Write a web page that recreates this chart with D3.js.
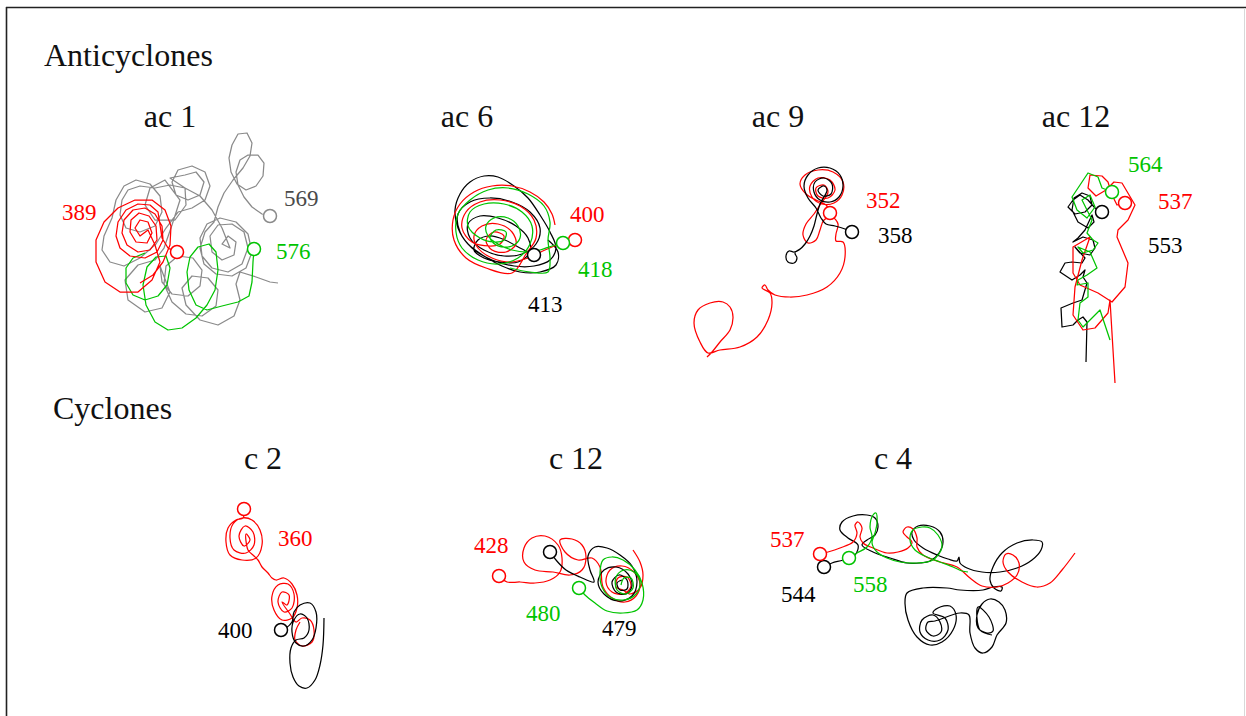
<!DOCTYPE html>
<html>
<head>
<meta charset="utf-8">
<script src="https://cdn.jsdelivr.net/npm/d3@7"></script>
<style>
  html, body { margin: 0; padding: 0; background: #fff; }
  svg { display: block; }
</style>
</head>
<body>
<svg id="chart" width="1246" height="716"></svg>
<script>
// Eddy trajectories. Each point is [km east, km north] of the eddy's reference
// position; the first point of every track is where the eddy was first detected.

const groupTitles = ["Anticyclones", "Cyclones"];
const panelTitles = ["ac 1", "ac 6", "ac 9", "ac 12", "c 2", "c 12", "c 4"];

// ---- ac 1 ----
const ac1_569 = [[70,34],[62,36],[52,43],[44,53],[38,65],[36,78],[40,90],[48,95],[58,95],[64,87],[63,74],[56,64],[46,60],[37,66],[31,78],[29,92],[32,105],[38,116],[47,117],[52,107],[50,94],[43,82],[33,70],[24,57],[18,43],[14,28],
  [5,18],[0,2],[4,-14],[16,-24],[32,-26],[46,-18],[52,-2],[48,16],[36,28],[20,32],[7,26],[0,12],[2,-6],[12,-18],[28,-22],[42,-14],[48,2],[44,18],[32,26],[18,25],[10,14],[12,-2],[22,-10],[34,-5],[36,8],[28,14],[22,6],[30,2],
  [22,22],[12,40],[0,54],[-15,62],[-30,65],[-45,62],[-60,64],[-72,60],[-78,50],[-80,35],[-74,22],[-60,18],[-45,24],[-38,38],[-40,54],[-50,66],[-64,70],[-76,64],[-84,50],[-88,32],[-96,14],[-98,0],[-90,-12],[-76,-16],[-60,-8],[-44,6],[-34,22],[-22,38],[-8,42],[5,50],[10,64],[5,78],[-8,84],[-22,80],[-28,68],[-24,55],[-12,50],[0,55],[4,68],[-4,78],[-15,75],
  [-30,72],[-15,62],[-14,45],[-25,30],[-45,30],[-55,45],[-50,62],[-35,70],
  [-20,50],[-28,25],[-36,2],[-45,-10],[-62,-15],[-75,-30],[-72,-50],[-55,-62],[-38,-58],[-30,-42],[-40,-16],[-38,-32],[-28,-44],[-12,-46],[0,-36],[2,-20],[-7,-8],[-22,-6],[-34,-16],[-36,-34],[-28,-52],[-14,-64],[2,-66],[16,-56],[18,-40],[8,-28],[-8,-26],[-18,-38],[-14,-55],[0,-70],[18,-75],[34,-66],[40,-50],[36,-34],[40,-22],[56,-27],[70,-32],[78,-33]];
const ac1_389 = [[-23,-2],[-32,2],[-38,12],[-40,25],[-42,38],[-50,45],[-62,46],[-74,40],[-82,28],[-84,14],[-80,2],[-70,-6],[-55,-8],[-43,-2],[-37,10],[-38,24],[-45,36],[-55,42],[-67,40],[-76,30],[-78,17],[-73,5],[-62,-2],[-50,0],[-43,10],[-44,24],[-51,34],[-61,37],[-69,30],[-70,18],[-64,8],[-53,7],[-48,17],[-52,28],[-60,30],[-65,22],[-60,14],[-52,20],
  [-45,5],[-40,-12],[-48,-30],[-62,-42],[-80,-42],[-95,-32],[-104,-12],[-104,10],[-96,28],[-82,42],[-65,50],[-48,50],[-35,40],[-29,24],[-30,5],[-37,-12],[-47,-25],[-60,-33]];
const ac1_576 = [[54,1],[53,-12],[52,-32],[49,-46],[38,-52],[22,-56],[7,-60],[-4,-55],[-11,-40],[-13,-22],[-10,-7],[-2,3],[9,6],[16,-2],[18,-20],[15,-40],[7,-55],[-4,-68],[-18,-78],[-32,-80],[-45,-72],[-54,-55],[-57,-35],[-53,-17],[-44,-7],[-34,-6],[-30,-18],[-33,-35],[-42,-46],[-55,-50],[-67,-45],[-74,-33],[-74,-18],[-67,-8],[-55,-3]];

// ---- ac 6 ----
const ac6_413 = [[34,-5],[20,2],[5,10],[-10,14],[-22,10],[-26,0],[-16,-8],[0,-12],[18,-12],[30,-2],[28,12],[16,24],[-2,32],[-20,34],[-32,26],[-30,12],[-16,0],[4,-6],[22,-4],[36,6],[40,22],[30,38],[12,48],[-10,52],[-30,48],[-42,36],[-40,18],[-28,2],[-8,-10],[14,-16],[34,-16],[50,-10],[56,2],[50,18],[40,35],[28,52],[14,64],[-2,73],[-16,74],[-30,68],[-40,56],[-45,40],[-42,22],[-32,6],[-16,-6],[2,-16],[20,-22],[40,-22],[56,-15],[58,-2],[48,10]];
const ac6_400 = [[75,10],[60,6],[45,0],[28,-8],[10,-12],[-8,-8],[-22,2],[-26,14],[-18,24],[-2,26],[12,18],[16,6],[6,-2],[-8,0],[-14,10],[-6,18],[4,14],[0,6],[-10,4],[-28,8],[-38,22],[-34,38],[-20,48],[0,50],[20,44],[34,30],[36,12],[26,-4],[12,-23],[-14,-18],[-34,-8],[-46,10],[-47,30],[-40,46],[-26,58],[-8,64],[12,64],[30,58],[44,48],[52,36],[55,25]];
const ac6_418 = [[63,7],[52,4],[40,0],[28,-2],[12,0],[-2,6],[-12,14],[-14,24],[-6,32],[8,32],[18,24],[20,12],[12,4],[-2,4],[-10,12],[-4,20],[6,18],[4,10],[-6,8],[-20,12],[-32,24],[-30,38],[-16,46],[4,46],[22,38],[32,24],[30,6],[18,-8],[-2,-14],[-22,-10],[-38,2],[-44,18],[-42,36],[-30,50],[-12,60],[8,62],[28,56],[44,44],[50,28],[48,10],[50,-8],[48,-22],[30,-22],[10,-18]];

// ---- ac 9 ----
const ac9_352 = [[30,37],[26,45],[16,50],[6,56],[0,66],[5,75],[18,80],[33,78],[43,68],[42,55],[34,47],[22,46],[12,53],[10,64],[18,72],[30,70],[35,60],[28,52],[18,54],[16,62],[24,65],[28,58],[20,45],[14,36],[6,26],[3,15],[8,7],[16,10],[20,20],[24,30],[32,33],[38,26],[36,16],[36,9],[43,8],[45,-7],[40,-23],[27,-37],[7,-45],[-10,-47],[-25,-45],[-32,-40],[-35,-35],[-38,-38],[-30,-43],[-28,-53],[-32,-70],[-43,-87],[-60,-97],[-80,-100],[-92,-103],[-100,-92],[-106,-73],[-102,-60],[-90,-53],[-77,-52],[-70,-57],[-67,-67],[-70,-80],[-80,-92],[-88,-102],[-93,-107]];
const ac9_358 = [[52,18],[45,21],[35,24],[26,26],[21,32],[16,42],[8,52],[4,64],[8,75],[18,82],[30,82],[40,75],[43,64],[39,53],[30,48],[20,50],[14,58],[15,68],[24,72],[32,66],[31,56],[23,54],[18,60],[24,64],[27,60],[20,46],[17,36],[14,24],[10,14],[5,6],[-1,0],[-6,-2],[-11,-1],[-14,-6],[-12,-12],[-6,-13],[-3,-8],[-5,-3],[0,1]];

// ---- ac 12 ----
const ac12_553 = [[2,38],[-5,42],[-12,50],[-20,55],[-27,50],[-32,43],[-25,36],[-15,38],[-8,45],[-10,54],[-18,57],[-26,52],[-28,40],[-22,28],[-12,22],[-6,28],[-8,35],[-15,20],[-22,12],[-27,8],[-17,13],[-7,10],[-5,2],[-10,-5],[-20,-3],[-25,3],[-15,-8],[-18,-13],[-28,-12],[-35,-13],[-40,-22],[-28,-30],[-20,-25],[-15,-20],[-17,-27],[-13,-33],[-18,-50],[-27,-53],[-39,-58],[-38,-77],[-27,-75],[-22,-70],[-17,-67],[-13,-72],[-14,-112]];
const ac12_537 = [[25,47],[17,45],[12,55],[8,68],[2,74],[-10,75],[-12,62],[-4,54],[6,60],[14,68],[22,67],[35,45],[28,30],[18,20],[17,13],[28,-13],[25,-37],[12,-52],[-2,-43],[-20,-35],[-27,-23],[-27,3],[-10,13],[-18,-10],[-25,-37],[-27,-65],[-17,-80],[-5,-78],[8,-63],[10,-50],[15,-133]];
const ac12_564 = [[12,58],[2,62],[-2,73],[-12,77],[-20,65],[-28,53],[-23,40],[-13,32],[-5,43],[-10,55],[-18,50],[-8,30],[-13,17],[-7,10],[-2,7],[-7,0],[-17,-3],[-22,3],[-10,-2],[-3,-18],[-13,-25],[-22,-30],[-23,-35],[-12,-33],[-12,-47],[-20,-53],[-22,-70],[-17,-77],[-10,-70],[0,-60],[10,-90]];

// ---- c 2 ----
const c2_360 = [[-26,91],[-27,82],[-34,80],[-42,72],[-44,58],[-40,45],[-28,40],[-14,42],[-8,55],[-10,70],[-18,80],[-28,82],[-37,76],[-40,62],[-36,50],[-24,47],[-16,55],[-17,68],[-25,74],[-31,64],[-26,54],[-20,60],[-24,66],
  [-22,50],[-16,44],[-12,40],[-8,33],[-2,27],[2,22],[6,20],[14,22],[22,16],[27,5],[27,-8],[22,-18],[12,-20],[4,-10],[2,4],[8,15],[18,16],[24,6],[22,-8],[14,-12],[8,-2],[12,8],[19,5],[17,-5],[12,-2],
  [20,-14],[26,-22],[32,-18],[40,-20],[44,-30],[42,-42],[32,-46],[25,-40],[26,-30],[30,-22]];
const c2_400 = [[11,-30],[16,-28],[22,-22],[24,-12],[30,-5],[40,-3],[46,-12],[46,-28],[42,-40],[34,-46],[26,-43],[22,-32],[24,-20],[30,-14],[37,-18],[39,-30],[34,-38],[26,-40],[21,-48],[20,-63],[23,-77],[29,-86],[37,-88],[45,-80],[50,-65],[53,-45],[54,-18]];

// ---- c 12 ----
const c12_428 = [[-101,24],[-93,18],[-80,18],[-65,17],[-50,20],[-40,28],[-38,42],[-42,55],[-55,64],[-68,62],[-76,52],[-76,38],[-65,30],[-47,28],[-30,25],[-18,30],[-14,43],[-18,55],[-28,61],[-40,60],[-35,48],[-22,40],[-8,42],[0,33],[3,13],[12,2],[25,-2],[36,4],[40,16],[34,28],[22,34],[10,30],[6,18],[12,8],[24,6],[31,14],[27,23],[18,22],[16,13],[23,10],[30,6],[40,12],[43,25],[40,38],[33,50]];
const c12_479 = [[-50,48],[-44,40],[-34,30],[-20,23],[-6,18],[-10,30],[-12,44],[-5,53],[7,52],[20,45],[32,34],[37,18],[32,4],[18,-1],[4,6],[-2,18],[4,30],[16,33],[28,26],[32,14],[26,6],[16,8],[12,18],[19,25],[27,20],[27,11],[20,10],[17,17],[22,20]];
const c12_480 = [[-21,12],[-15,5],[-5,-3],[7,-11],[23,-13],[37,-10],[43,0],[42,17],[35,30],[23,40],[12,43],[3,40],[0,27],[2,13],[10,3],[24,0],[36,6],[40,18],[34,28],[24,30],[16,23],[17,10],[26,6],[33,12],[31,22],[24,22],[21,15]];

// ---- c 4 ----
const c4_537 = [[-80,46],[-72,48],[-60,52],[-47,58],[-43,67],[-45,75],[-42,78],[-38,72],[-40,63],[-37,57],[-27,52],[-13,47],[-2,48],[8,52],[12,58],[7,63],[3,68],[7,73],[13,71],[17,62],[17,53],[23,45],[40,38],[57,33],[70,22],[82,14],[97,13],[108,17],[117,25],[119,37],[113,45],[106,46],[103,38],[108,28],[122,18],[137,13],[150,17],[162,30],[175,47]];
const c4_544 = [[-76,33],[-68,37],[-57,40],[-45,45],[-42,55],[-52,62],[-60,70],[-58,78],[-47,84],[-33,85],[-25,82],[-22,73],[-25,65],[-33,60],[-38,55],[-27,48],[-10,42],[7,37],[20,37],[30,39],[39,47],[43,58],[40,68],[30,74],[18,74],[12,68],[14,60],[23,52],[37,45],[48,41],[57,39],[59,43],[60,37],[67,32],[82,28],[100,28],[117,32],[132,40],[141,50],[142,58],[133,60],[117,57],[102,47],[93,33],[90,20],[94,12],[101,9],[102,13],[93,13],[83,10],[60,10],[47,12],[23,12],[7,7],[5,-3],[8,-20],[17,-37],[30,-45],[42,-42],[53,-30],[56,-15],[50,-6],[38,-8],
  [33,-13],[45,-18],[48,-30],[40,-40],[28,-40],[20,-32],[22,-20],[33,-15],[40,-22],[41,-32],[33,-36],[26,-30],[28,-22],[35,-21],[60,-13],
  [69,-15],[70,-33],[75,-48],[83,-53],[92,-47],[97,-35],[106,-23],[105,-10],[99,-2],[90,1],[82,-4],[77,-15],[78,-28],[87,-33],[93,-31],[89,-17],[78,-7],[80,-30],[92,-35]];
const c4_558 = [[-51,42],[-43,47],[-33,53],[-28,63],[-30,73],[-27,85],[-24,87],[-23,77],[-25,67],[-28,57],[-23,48],[-13,42],[0,38],[17,37],[33,40],[42,53],[38,65],[30,72],[22,73],[13,70],[10,60],[15,50],[27,43],[40,38],[53,33],[62,29],[68,28]];

// ---------------------------------------------------------------- styling
const RED = "#ff0000", GREEN = "#00c400", BLACK = "#000000", GRAY = "#8a8a8a";
const FONT = "'Liberation Serif', 'Times New Roman', serif";

// Panel placement on the page (pixel centre of each panel's km frame) and title position
const panels = [
  { title: panelTitles[0], ox: 200,  oy: 250, tx: 170,  ty: 127, linear: true  },
  { title: panelTitles[1], ox: 500,  oy: 250, tx: 467,  ty: 127, linear: false },
  { title: panelTitles[2], ox: 800,  oy: 250, tx: 778,  ty: 127, linear: false },
  { title: panelTitles[3], ox: 1100, oy: 250, tx: 1076, ty: 127, linear: true  },
  { title: panelTitles[4], ox: 270,  oy: 600, tx: 263,  ty: 469, linear: false },
  { title: panelTitles[5], ox: 600,  oy: 600, tx: 576,  ty: 469, linear: false },
  { title: panelTitles[6], ox: 900,  oy: 600, tx: 893,  ty: 469, linear: false }
];

// Tracks: drawing order within a panel follows this list; label offsets are in pixels from the start marker
const tracks = [
  { panel: 0, name: "569", color: GRAY,  text: "#4a4a4a", pts: ac1_569,  ldx: 14,  ldy: -10 },
  { panel: 0, name: "576", color: GREEN, text: GREEN,     pts: ac1_576,  ldx: 22,  ldy: 10 },
  { panel: 0, name: "389", color: RED,   text: RED,       pts: ac1_389,  ldx: -115, ldy: -32 },
  { panel: 1, name: "413", color: BLACK, text: BLACK,     pts: ac6_413,  ldx: -6,  ldy: 57 },
  { panel: 1, name: "400", color: RED,   text: RED,       pts: ac6_400,  ldx: -5,  ldy: -18 },
  { panel: 1, name: "418", color: GREEN, text: GREEN,     pts: ac6_418,  ldx: 15,  ldy: 34 },
  { panel: 2, name: "352", color: RED,   text: RED,       pts: ac9_352,  ldx: 36,  ldy: -5 },
  { panel: 2, name: "358", color: BLACK, text: BLACK,     pts: ac9_358,  ldx: 26,  ldy: 11 },
  { panel: 3, name: "553", color: BLACK, text: BLACK,     pts: ac12_553, ldx: 46,  ldy: 41 },
  { panel: 3, name: "537", color: RED,   text: RED,       pts: ac12_537, ldx: 33,  ldy: 6 },
  { panel: 3, name: "564", color: GREEN, text: GREEN,     pts: ac12_564, ldx: 16,  ldy: -20 },
  { panel: 4, name: "360", color: RED,   text: RED,       pts: c2_360,   ldx: 34,  ldy: 37 },
  { panel: 4, name: "400", color: BLACK, text: BLACK,     pts: c2_400,   ldx: -63, ldy: 8 },
  { panel: 5, name: "428", color: RED,   text: RED,       pts: c12_428,  ldx: -25, ldy: -23 },
  { panel: 5, name: "479", color: BLACK, text: BLACK,     pts: c12_479,  ldx: 52,  ldy: 84 },
  { panel: 5, name: "480", color: GREEN, text: GREEN,     pts: c12_480,  ldx: -53, ldy: 33 },
  { panel: 6, name: "544", color: BLACK, text: BLACK,     pts: c4_544,   ldx: -43, ldy: 35 },
  { panel: 6, name: "537", color: RED,   text: RED,       pts: c4_537,   ldx: -50, ldy: -7 },
  { panel: 6, name: "558", color: GREEN, text: GREEN,     pts: c4_558,   ldx: 4,   ldy: 34 }
];

// ---------------------------------------------------------------- drawing
const svg = d3.select("#chart");
const W = 1246, H = 716;

// frame
svg.append("line").attr("x1", 6.5).attr("x2", 6.5).attr("y1", 7).attr("y2", H)
  .attr("stroke", "#222").attr("stroke-width", 1.6);
svg.append("line").attr("x1", 6).attr("x2", W).attr("y1", 7.5).attr("y2", 7.5)
  .attr("stroke", "#222").attr("stroke-width", 1.6);
svg.append("line").attr("x1", W - 1.5).attr("x2", W - 1.5).attr("y1", 8).attr("y2", H)
  .attr("stroke", "#d8d8d8").attr("stroke-width", 1);

// group headings
svg.append("text").attr("x", 44).attr("y", 66).text(groupTitles[0])
  .attr("font-family", FONT).attr("font-size", 32).attr("fill", "#111");
svg.append("text").attr("x", 53).attr("y", 419).text(groupTitles[1])
  .attr("font-family", FONT).attr("font-size", 32).attr("fill", "#111");

// per-panel scales: 1 km per pixel, north up
panels.forEach(p => {
  p.x = d3.scaleLinear().domain([-150, 150]).range([p.ox - 150, p.ox + 150]);
  p.y = d3.scaleLinear().domain([-150, 150]).range([p.oy + 150, p.oy - 150]);
  p.g = svg.append("g").attr("class", "panel");
  p.g.append("text")
    .attr("x", p.tx).attr("y", p.ty)
    .attr("text-anchor", "middle")
    .attr("font-family", FONT).attr("font-size", 32).attr("fill", "#111")
    .text(p.title);
  p.lines = p.g.append("g");
  p.marks = p.g.append("g");
});

tracks.forEach(t => {
  const p = panels[t.panel];
  const line = d3.line()
    .x(d => p.x(d[0]))
    .y(d => p.y(d[1]))
    .curve(p.linear ? d3.curveLinear : d3.curveCatmullRom.alpha(0.5));
  p.lines.append("path")
    .datum(t.pts)
    .attr("d", line)
    .attr("fill", "none")
    .attr("stroke", t.color)
    .attr("stroke-width", 1.25)
    .attr("stroke-linejoin", "round");

  const sx = p.x(t.pts[0][0]), sy = p.y(t.pts[0][1]);
  p.marks.append("circle")
    .attr("cx", sx).attr("cy", sy).attr("r", 6.5)
    .attr("fill", "#fff")
    .attr("stroke", t.color)
    .attr("stroke-width", 1.5);
  p.marks.append("text")
    .attr("x", sx + t.ldx).attr("y", sy + t.ldy)
    .attr("font-family", FONT).attr("font-size", 23)
    .attr("fill", t.text)
    .text(t.name);
});
</script>
</body>
</html>
